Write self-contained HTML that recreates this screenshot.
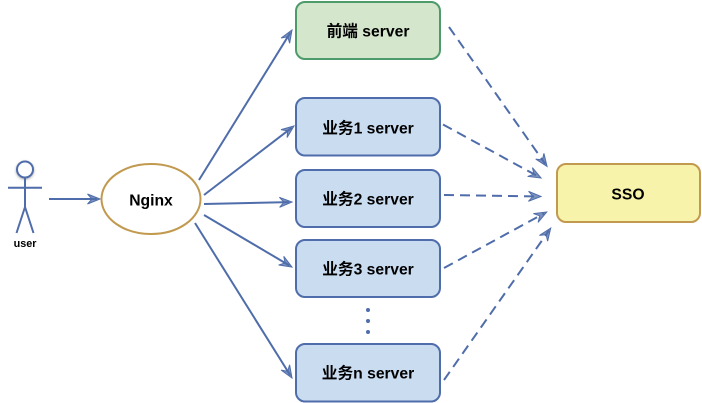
<!DOCTYPE html>
<html>
<head>
<meta charset="utf-8">
<style>
html,body{margin:0;padding:0;background:#fff;width:702px;height:403px;overflow:hidden}
svg{display:block}
text{font-family:"Liberation Sans","Noto Sans CJK SC",sans-serif;font-weight:bold;font-size:15.700px;fill:#000;text-anchor:middle}
.l{stroke:#4f6daa;stroke-width:2;fill:none}
.d{stroke-dasharray:10 6}
.b{fill:#cadcf0;stroke:#4f6daa;stroke-width:2}
</style>
</head>
<body>
<svg width="702" height="403" viewBox="0 0 702 403" xmlns="http://www.w3.org/2000/svg">
<defs>
<marker id="a" markerUnits="userSpaceOnUse" markerWidth="20" markerHeight="14" refX="10" refY="7" orient="auto" overflow="visible">
<path d="M0.500 2 L13 7 L0.500 12 L5 7 Z" fill="#4f6daa" fill-opacity=".75" stroke="#4f6daa" stroke-width="1" stroke-linejoin="miter"/>
</marker>
<filter id="s" x="-50%" y="-50%" width="200%" height="200%"><feGaussianBlur stdDeviation="1.200"/></filter>
</defs>

<!-- actor -->
<circle cx="25" cy="170.500" r="9" fill="#777" fill-opacity=".6" filter="url(#s)"/>
<circle cx="25" cy="169.500" r="8" fill="#fff" stroke="#4f6daa" stroke-width="2"/>
<path class="l" d="M25 178V207M8 187.700H42M25 207L16.500 233M25 207L33.500 233"/>
<text x="25" y="247" style="font-size:10.800px">user</text>

<!-- solid connectors -->
<path class="l" d="M49 199H97" marker-end="url(#a)"/>
<path class="l" d="M199 180L290.400 32.550" marker-end="url(#a)"/>
<path class="l" d="M204 195L291.600 127.800" marker-end="url(#a)"/>
<path class="l" d="M204 204L289 202.070" marker-end="url(#a)"/>
<path class="l" d="M204 215L289.400 265.500" marker-end="url(#a)"/>
<path class="l" d="M195 223L290.400 375.500" marker-end="url(#a)"/>

<!-- dashed connectors -->
<path class="l d" d="M449 27L545.300 164" marker-end="url(#a)"/>
<path class="l d" d="M443 124.500L538.400 176.600" marker-end="url(#a)"/>
<path class="l d" d="M444 195L538 196.450" marker-end="url(#a)"/>
<path class="l d" d="M444 268L544.100 213.400" marker-end="url(#a)"/>
<path class="l d" d="M444 380L549 230.500" marker-end="url(#a)"/>

<!-- nginx -->
<ellipse cx="151" cy="199" rx="49.500" ry="35" fill="#fff" stroke="#c1994f" stroke-width="2"/>
<text x="151" y="205.500">Nginx</text>

<!-- servers -->
<rect x="296" y="2" width="144" height="57" rx="9" fill="#d4e6cc" stroke="#4d9a6b" stroke-width="2"/>
<text x="368" y="36.500">前端 server</text>

<rect class="b" x="296" y="98" width="144" height="57.500" rx="9"/>
<text x="368" y="133.500">业务1 server</text>

<rect class="b" x="296" y="170" width="144" height="57" rx="9"/>
<text x="368" y="204.500">业务2 server</text>

<rect class="b" x="296" y="240" width="144" height="57" rx="9"/>
<text x="368" y="274.500">业务3 server</text>

<circle cx="368" cy="310" r="2" fill="#4f6daa"/>
<circle cx="368" cy="321" r="2" fill="#4f6daa"/>
<circle cx="368" cy="332" r="2" fill="#4f6daa"/>

<rect class="b" x="296" y="344" width="144" height="57.500" rx="9"/>
<text x="368" y="378.500">业务n server</text>

<!-- sso -->
<rect x="557" y="164" width="143" height="58" rx="9" fill="#f8f3aa" stroke="#c1994f" stroke-width="2"/>
<text x="628" y="199.500">SSO</text>
</svg>
</body>
</html>
